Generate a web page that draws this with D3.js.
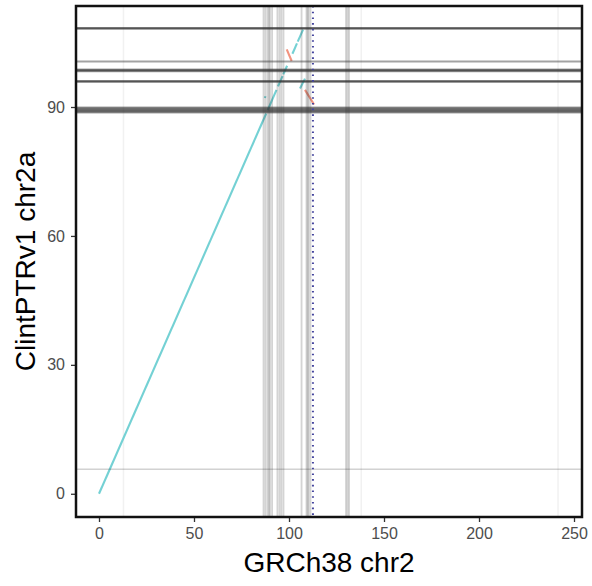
<!DOCTYPE html>
<html>
<head>
<meta charset="utf-8">
<script src="https://cdn.jsdelivr.net/npm/d3@7"></script>
<style>
  body { margin: 0; background: #fff; }
  text { font-family: "Liberation Sans", Arial, sans-serif; }
</style>
</head>
<body>
<div id="chart"></div>
<script>
// chromosome lengths (Mb)
const refLen = 242.1;   // GRCh38 chr2
const qryLen = 108.1;   // ClintPTRv1 chr2a

const xTicks = [0, 50, 100, 150, 200, 250];
const yTicks = [0, 30, 60, 90];

// alignments [refStart, qryStart, refEnd, qryEnd]
const fwdSegs = [
  [0.0, 0.0, 88.0, 88.5],
  [88.8, 89.3, 93.4, 94.0],
  [94.2, 94.8, 96.6, 97.2],
  [97.0, 97.6, 99.0, 99.6],
  [101.8, 102.4, 104.2, 104.8],
  [104.6, 105.2, 107.4, 108.0],
  [105.8, 94.3, 108.4, 96.6],
  [87.3, 92.1, 87.6, 92.5]
];
const revSegs = [
  [98.8, 103.4, 101.4, 100.7],
  [108.4, 94.0, 113.2, 90.6]
];

// feature positions (Mb)
const refMarks = [86.6, 87.6, 88.7, 89.4, 90.0, 91.1, 93.9, 95.0, 96.0, 97.1,
                  106.6, 109.2, 109.8, 110.3, 111.3, 130.0, 130.8, 131.6];
const refFaint = [12.9, 138.0, 241.6];
const qryMarks = [108.2, 108.3, 108.4, 100.6,
                  98.3, 98.45, 98.6, 98.75,
                  95.85, 95.95, 96.05,
                  88.7, 88.9, 89.1, 89.3, 89.5, 89.7, 89.9];
const qryLight = [5.7];
const breakpoint = 112.6;

const W = 592, H = 586;
const margin = {top: 6, right: 10, bottom: 69, left: 76};
const pw = W - margin.left - margin.right,
      ph = H - margin.top - margin.bottom;

const svg = d3.select("#chart").append("svg")
  .attr("width", W).attr("height", H);

const xpad = refLen * 0.05, ypad = qryLen * 0.05;
const x = d3.scaleLinear().domain([-xpad, refLen + xpad]).range([0, pw]);
const y = d3.scaleLinear().domain([-ypad, qryLen + ypad]).range([ph, 0]);

const g = svg.append("g")
  .attr("transform", "translate(" + margin.left + "," + margin.top + ")");

svg.append("defs").append("clipPath").attr("id", "clip")
  .append("rect").attr("width", pw).attr("height", ph);

const plot = g.append("g").attr("clip-path", "url(#clip)");

// faint lines
plot.selectAll(".rf").data(refFaint).enter().append("line")
  .attr("x1", d => x(d)).attr("x2", d => x(d))
  .attr("y1", 0).attr("y2", ph)
  .attr("stroke", "#333").attr("stroke-opacity", 0.07).attr("stroke-width", 1.5);

// alignments
function drawSegs(data, col) {
  plot.append("g").selectAll("line").data(data).enter().append("line")
    .attr("x1", d => x(d[0])).attr("y1", d => y(d[1]))
    .attr("x2", d => x(d[2])).attr("y2", d => y(d[3]))
    .attr("stroke", col).attr("stroke-width", 2.1)
    .attr("stroke-linecap", "butt");
}
drawSegs(fwdSegs, "#74d1d4");
drawSegs(revSegs, "#f2937f");

// reference features (vertical)
plot.selectAll(".rm").data(refMarks).enter().append("line")
  .attr("x1", d => x(d)).attr("x2", d => x(d))
  .attr("y1", 0).attr("y2", ph)
  .attr("stroke", "#333").attr("stroke-opacity", 0.21).attr("stroke-width", 1.8);

// query features (horizontal)
plot.selectAll(".ql").data(qryLight).enter().append("line")
  .attr("x1", 0).attr("x2", pw)
  .attr("y1", d => y(d)).attr("y2", d => y(d))
  .attr("stroke", "#333").attr("stroke-opacity", 0.22).attr("stroke-width", 1.6);

plot.selectAll(".qm").data(qryMarks).enter().append("line")
  .attr("x1", 0).attr("x2", pw)
  .attr("y1", d => y(d)).attr("y2", d => y(d))
  .attr("stroke", "#333").attr("stroke-opacity", 0.45).attr("stroke-width", 2);

// breakpoint
plot.append("line")
  .attr("x1", x(breakpoint)).attr("x2", x(breakpoint))
  .attr("y1", 0).attr("y2", ph)
  .attr("stroke", "#44449e").attr("stroke-width", 2)
  .attr("stroke-dasharray", "1.6,4.1");

// axes
const xAxis = g.append("g")
  .attr("transform", "translate(0," + ph + ")")
  .call(d3.axisBottom(x).tickValues(xTicks).tickSize(5).tickPadding(6));
const yAxis = g.append("g")
  .call(d3.axisLeft(y).tickValues(yTicks).tickSize(5).tickPadding(6));

[xAxis, yAxis].forEach(a => {
  a.select(".domain").remove();
  a.selectAll(".tick line").attr("stroke", "#333").attr("stroke-width", 1.3);
  a.selectAll(".tick text").attr("fill", "#4d4d4d")
    .style("font-size", "16px").style("font-family", "Liberation Sans, Arial, sans-serif");
});

// panel border
g.append("rect")
  .attr("width", pw).attr("height", ph)
  .attr("fill", "none").attr("stroke", "#111").attr("stroke-width", 2.5);

// axis titles
svg.append("text")
  .attr("x", margin.left + pw / 2).attr("y", 572)
  .attr("text-anchor", "middle")
  .style("font-size", "28px").attr("fill", "#000")
  .text("GRCh38 chr2");

svg.append("text")
  .attr("transform", "translate(35," + (margin.top + ph / 2) + ") rotate(-90)")
  .attr("text-anchor", "middle")
  .style("font-size", "28px").attr("fill", "#000")
  .text("ClintPTRv1 chr2a");
</script>
</body>
</html>
